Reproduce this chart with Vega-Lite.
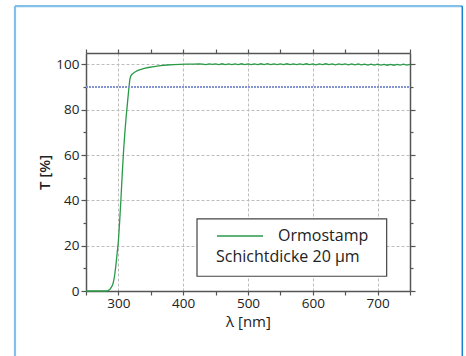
{
  "$schema": "https://vega.github.io/schema/vega-lite/v6.json",
  "width": 324,
  "height": 238,
  "autosize": "none",
  "padding": {"left": 86, "top": 53, "right": 56, "bottom": 65},
  "background": "white",
  "config": {
    "font": "Open Sans",
    "view": {"stroke": null},
    "axis": {
      "domainColor": "#555555",
      "domainWidth": 1.5,
      "tickColor": "#555555",
      "tickWidth": 1.2,
      "labelColor": "#222222",
      "labelFont": "Open Sans",
      "labelFontSize": 13.5,
      "titleFont": "Open Sans",
      "titleFontSize": 15,
      "titleColor": "#222222",
      "titleFontWeight": "normal",
      "gridColor": "#bdbdbd",
      "gridDash": [3, 2],
      "gridWidth": 1
    }
  },
  "datasets": {
    "curve": [
      {"wavelength": 250, "T": 0, "series": "Ormostamp"},
      {"wavelength": 260, "T": 0, "series": "Ormostamp"},
      {"wavelength": 270, "T": 0, "series": "Ormostamp"},
      {"wavelength": 280, "T": 0, "series": "Ormostamp"},
      {"wavelength": 284, "T": 0.2, "series": "Ormostamp"},
      {"wavelength": 287, "T": 0.8, "series": "Ormostamp"},
      {"wavelength": 290, "T": 2, "series": "Ormostamp"},
      {"wavelength": 292, "T": 3.5, "series": "Ormostamp"},
      {"wavelength": 294, "T": 6.5, "series": "Ormostamp"},
      {"wavelength": 296, "T": 11, "series": "Ormostamp"},
      {"wavelength": 298, "T": 16.5, "series": "Ormostamp"},
      {"wavelength": 300, "T": 22, "series": "Ormostamp"},
      {"wavelength": 302, "T": 31, "series": "Ormostamp"},
      {"wavelength": 304, "T": 41, "series": "Ormostamp"},
      {"wavelength": 306, "T": 52, "series": "Ormostamp"},
      {"wavelength": 308, "T": 62, "series": "Ormostamp"},
      {"wavelength": 310, "T": 70, "series": "Ormostamp"},
      {"wavelength": 312, "T": 77, "series": "Ormostamp"},
      {"wavelength": 314, "T": 83, "series": "Ormostamp"},
      {"wavelength": 316, "T": 89, "series": "Ormostamp"},
      {"wavelength": 317.5, "T": 93, "series": "Ormostamp"},
      {"wavelength": 319, "T": 94.8, "series": "Ormostamp"},
      {"wavelength": 321, "T": 95.6, "series": "Ormostamp"},
      {"wavelength": 325, "T": 96.5, "series": "Ormostamp"},
      {"wavelength": 330, "T": 97.3, "series": "Ormostamp"},
      {"wavelength": 335, "T": 97.8, "series": "Ormostamp"},
      {"wavelength": 340, "T": 98.2, "series": "Ormostamp"},
      {"wavelength": 346, "T": 98.6, "series": "Ormostamp"},
      {"wavelength": 355, "T": 99.0, "series": "Ormostamp"},
      {"wavelength": 365, "T": 99.4, "series": "Ormostamp"},
      {"wavelength": 375, "T": 99.7, "series": "Ormostamp"},
      {"wavelength": 385, "T": 99.9, "series": "Ormostamp"},
      {"wavelength": 395, "T": 100, "series": "Ormostamp"},
      {"wavelength": 405, "T": 100.1, "series": "Ormostamp"},
      {"wavelength": 415, "T": 100.1, "series": "Ormostamp"},
      {"wavelength": 425, "T": 100.2, "series": "Ormostamp"},
      {"wavelength": 430, "T": 100.1, "series": "Ormostamp"},
      {"wavelength": 435, "T": 99.9, "series": "Ormostamp"},
      {"wavelength": 440, "T": 100.2, "series": "Ormostamp"},
      {"wavelength": 445, "T": 99.95, "series": "Ormostamp"},
      {"wavelength": 450, "T": 100.2, "series": "Ormostamp"},
      {"wavelength": 455, "T": 99.9, "series": "Ormostamp"},
      {"wavelength": 460, "T": 100.25, "series": "Ormostamp"},
      {"wavelength": 465, "T": 99.9, "series": "Ormostamp"},
      {"wavelength": 470, "T": 100.2, "series": "Ormostamp"},
      {"wavelength": 475, "T": 99.85, "series": "Ormostamp"},
      {"wavelength": 480, "T": 100.2, "series": "Ormostamp"},
      {"wavelength": 485, "T": 99.9, "series": "Ormostamp"},
      {"wavelength": 490, "T": 100.25, "series": "Ormostamp"},
      {"wavelength": 495, "T": 99.9, "series": "Ormostamp"},
      {"wavelength": 500, "T": 100.2, "series": "Ormostamp"},
      {"wavelength": 505, "T": 99.85, "series": "Ormostamp"},
      {"wavelength": 510, "T": 100.2, "series": "Ormostamp"},
      {"wavelength": 515, "T": 99.9, "series": "Ormostamp"},
      {"wavelength": 520, "T": 100.25, "series": "Ormostamp"},
      {"wavelength": 525, "T": 99.9, "series": "Ormostamp"},
      {"wavelength": 530, "T": 100.3, "series": "Ormostamp"},
      {"wavelength": 535, "T": 99.9, "series": "Ormostamp"},
      {"wavelength": 540, "T": 100.2, "series": "Ormostamp"},
      {"wavelength": 545, "T": 99.85, "series": "Ormostamp"},
      {"wavelength": 550, "T": 100.2, "series": "Ormostamp"},
      {"wavelength": 555, "T": 99.9, "series": "Ormostamp"},
      {"wavelength": 560, "T": 100.25, "series": "Ormostamp"},
      {"wavelength": 565, "T": 99.85, "series": "Ormostamp"},
      {"wavelength": 570, "T": 100.2, "series": "Ormostamp"},
      {"wavelength": 575, "T": 99.9, "series": "Ormostamp"},
      {"wavelength": 580, "T": 100.2, "series": "Ormostamp"},
      {"wavelength": 585, "T": 99.85, "series": "Ormostamp"},
      {"wavelength": 590, "T": 100.25, "series": "Ormostamp"},
      {"wavelength": 595, "T": 99.9, "series": "Ormostamp"},
      {"wavelength": 600, "T": 100.2, "series": "Ormostamp"},
      {"wavelength": 605, "T": 99.8, "series": "Ormostamp"},
      {"wavelength": 610, "T": 100.2, "series": "Ormostamp"},
      {"wavelength": 615, "T": 99.9, "series": "Ormostamp"},
      {"wavelength": 620, "T": 100.25, "series": "Ormostamp"},
      {"wavelength": 625, "T": 99.85, "series": "Ormostamp"},
      {"wavelength": 630, "T": 100.2, "series": "Ormostamp"},
      {"wavelength": 635, "T": 99.8, "series": "Ormostamp"},
      {"wavelength": 640, "T": 100.2, "series": "Ormostamp"},
      {"wavelength": 645, "T": 99.85, "series": "Ormostamp"},
      {"wavelength": 650, "T": 100.2, "series": "Ormostamp"},
      {"wavelength": 655, "T": 99.8, "series": "Ormostamp"},
      {"wavelength": 660, "T": 100.15, "series": "Ormostamp"},
      {"wavelength": 665, "T": 99.8, "series": "Ormostamp"},
      {"wavelength": 670, "T": 100.2, "series": "Ormostamp"},
      {"wavelength": 675, "T": 99.75, "series": "Ormostamp"},
      {"wavelength": 680, "T": 100.1, "series": "Ormostamp"},
      {"wavelength": 685, "T": 99.7, "series": "Ormostamp"},
      {"wavelength": 690, "T": 100.1, "series": "Ormostamp"},
      {"wavelength": 695, "T": 99.7, "series": "Ormostamp"},
      {"wavelength": 700, "T": 100.1, "series": "Ormostamp"},
      {"wavelength": 705, "T": 99.65, "series": "Ormostamp"},
      {"wavelength": 710, "T": 100.0, "series": "Ormostamp"},
      {"wavelength": 715, "T": 99.6, "series": "Ormostamp"},
      {"wavelength": 720, "T": 99.95, "series": "Ormostamp"},
      {"wavelength": 725, "T": 99.6, "series": "Ormostamp"},
      {"wavelength": 730, "T": 100.0, "series": "Ormostamp"},
      {"wavelength": 735, "T": 99.65, "series": "Ormostamp"},
      {"wavelength": 740, "T": 100.05, "series": "Ormostamp"},
      {"wavelength": 745, "T": 99.7, "series": "Ormostamp"},
      {"wavelength": 750, "T": 100.0, "series": "Ormostamp"}
    ],
    "threshold": [{"x": 250, "x2": 750, "y": 90}],
    "frameLight": [
      {"x": 140.4, "x2": 140.4, "y": -31, "y2": 125.7},
      {"x": 140.4, "x2": 830.7, "y": 125.7, "y2": 125.7}
    ],
    "frameDark": [{"x": 830.7, "x2": 830.7, "y": -31, "y2": 125.7}],
    "legendBox": [{"x": 421.3, "x2": 714, "y": 6.5, "y2": 31.8}]
  },
  "layer": [
    {
      "data": {"name": "frameLight"},
      "mark": {"type": "rule", "color": "#82c0ea", "strokeWidth": 2.2},
      "encoding": {
        "x": {"field": "x", "type": "quantitative", "axis": null},
        "x2": {"field": "x2"},
        "y": {"field": "y", "type": "quantitative", "axis": null},
        "y2": {"field": "y2"}
      }
    },
    {
      "data": {"name": "frameDark"},
      "mark": {"type": "rule", "color": "#1a80d0", "strokeWidth": 1.5},
      "encoding": {
        "x": {"field": "x", "type": "quantitative", "axis": null},
        "x2": {"field": "x2"},
        "y": {"field": "y", "type": "quantitative", "axis": null},
        "y2": {"field": "y2"}
      }
    },
    {
      "data": {"name": "legendBox"},
      "mark": {"type": "rect", "fill": "white", "stroke": "#444444", "strokeWidth": 1.2},
      "encoding": {
        "x": {"field": "x", "type": "quantitative", "axis": null},
        "x2": {"field": "x2"},
        "y": {"field": "y", "type": "quantitative", "axis": null},
        "y2": {"field": "y2"}
      }
    },
    {
      "data": {"name": "curve"},
      "mark": {"type": "line", "strokeWidth": 1.3},
      "encoding": {
        "x": {
          "field": "wavelength",
          "type": "quantitative",
          "scale": {"domain": [250, 750], "nice": false, "zero": false},
          "axis": {
            "orient": "bottom",
            "title": "λ [nm]",
            "values": [250, 300, 350, 400, 450, 500, 550, 600, 650, 700, 750],
            "labelExpr": "datum.value % 100 === 0 && datum.value > 250 && datum.value < 750 ? datum.label : ''",
            "tickSize": 4,
            "labelPadding": 1,
            "titlePadding": 5,
            "grid": true,
            "gridOpacity": {"condition": {"test": "datum.value % 100 === 0 && datum.value > 250 && datum.value < 750", "value": 1}, "value": 0}
          }
        },
        "y": {
          "field": "T",
          "type": "quantitative",
          "scale": {"domain": [0, 105], "nice": false},
          "axis": {
            "orient": "left",
            "title": "T [%]",
            "titleFontWeight": 600,
            "values": [0, 10, 20, 30, 40, 50, 60, 70, 80, 90, 100],
            "labelExpr": "datum.value % 20 === 0 ? datum.label : ''",
            "tickSize": {"condition": {"test": "datum.value % 20 === 0", "value": 5}, "value": 3},
            "labelPadding": 2,
            "titlePadding": 3,
            "grid": true,
            "gridOpacity": {"condition": {"test": "datum.value % 20 === 0 && datum.value > 0", "value": 1}, "value": 0}
          }
        },
        "color": {
          "field": "series",
          "type": "nominal",
          "scale": {"range": ["#2a9a48"]},
          "legend": {
            "orient": "none",
            "legendX": 130,
            "legendY": 159,
            "title": "Schichtdicke 20 µm",
            "titleOrient": "bottom",
            "titleFontSize": 16,
            "titleFontWeight": "normal",
            "titleColor": "#222222",
            "titleFont": "Open Sans",
            "titlePadding": 5,
            "labelFontSize": 16,
            "labelColor": "#222222",
            "labelFont": "Open Sans",
            "labelOffset": 14,
            "symbolType": "stroke",
            "symbolSize": 2116,
            "symbolStrokeWidth": 1.5,
            "padding": 0
          }
        }
      }
    },
    {
      "data": {"name": "threshold"},
      "mark": {"type": "rule", "color": "#8494d0", "strokeWidth": 2, "strokeDash": [2, 1]},
      "encoding": {
        "x": {
          "field": "x",
          "type": "quantitative",
          "axis": {
            "orient": "top",
            "title": null,
            "labels": false,
            "grid": false,
            "values": [250, 300, 350, 400, 450, 500, 550, 600, 650, 700, 750],
            "tickSize": 4
          }
        },
        "x2": {"field": "x2"},
        "y": {
          "field": "y",
          "type": "quantitative",
          "axis": {
            "orient": "right",
            "title": null,
            "labels": false,
            "grid": false,
            "values": [0, 10, 20, 30, 40, 50, 60, 70, 80, 90, 100],
            "tickSize": {"condition": {"test": "datum.value % 20 === 0", "value": 5}, "value": 3}
          }
        }
      }
    }
  ],
  "resolve": {"axis": {"x": "independent", "y": "independent"}}
}
